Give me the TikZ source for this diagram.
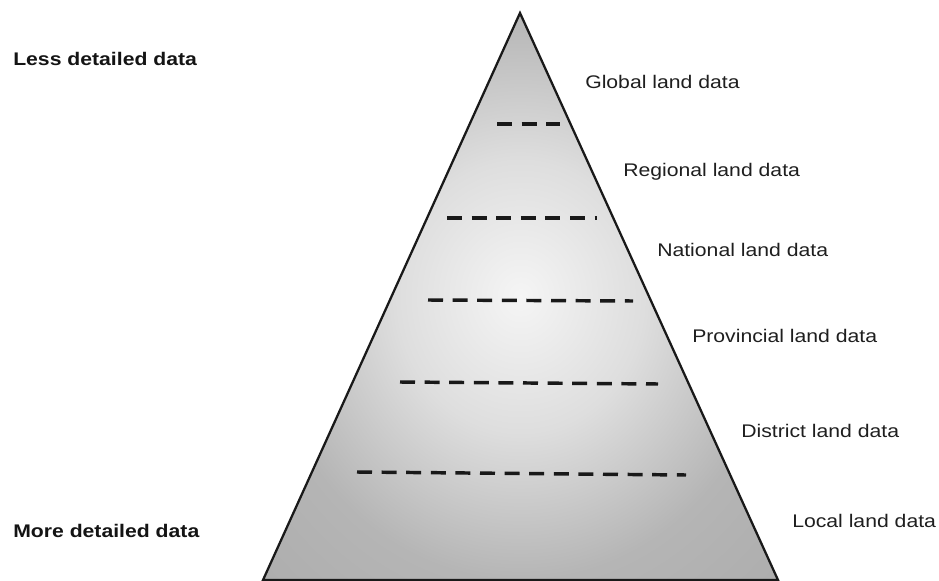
\documentclass[tikz,border=0pt]{standalone}
\usepackage{fontspec}
\setmainfont{Liberation Sans}[FakeStretch=1.16]
\pgfdeclareradialshading{pyramidfill}{\pgfpoint{0bp}{0bp}}{%
  color(0bp)=(black!4);
  color(12bp)=(black!13);
  color(25bp)=(black!29);
  color(50bp)=(black!36)}
\tikzset{
  label/.style={anchor=base west, inner sep=0pt, font=\fontsize{13.7}{16}\selectfont, text=black!88},
  side/.style={label, font=\fontsize{13.7}{16}\selectfont\bfseries, text=black!92},
  level/.style={line width=2.6pt, dash pattern=on 11.25pt off 7.2pt, black!90},
}
\begin{document}
\begin{tikzpicture}[x=0.75pt, y=-0.75pt]
\useasboundingbox (0,0) rectangle (939,581);
\fill[white] (0,0) rectangle (939,581);

% the pyramid
\coordinate (apex) at (520,13);
\coordinate (bl) at (263,580);
\coordinate (br) at (778,580);
\shade[shading=pyramidfill] (apex) -- (br) -- (bl) -- cycle;
\draw[line width=1.7pt, black!90, line join=miter] (apex) -- (br) -- (bl) -- cycle;

% level separators
\draw[level] (497,124) -- (560,124);
\draw[level] (447,218) -- (597,218);
\draw[level] (428,300) -- (633,301);
\draw[level] (400,382) -- (658,384);
\draw[level] (357,472) -- (686,475);

% level names
\node[label] (global)     at (585,89)  {Global land data};
\node[label] (regional)   at (623,177) {Regional land data};
\node[label] (national)   at (657,257) {National land data};
\node[label] (provincial) at (692,342) {Provincial land data};
\node[label] (district)   at (741,437) {District land data};
\node[label] (local)      at (792,527) {Local land data};

% detail axis
\node[side] (less) at (13,66)  {Less detailed data};
\node[side] (more) at (13,537) {More detailed data};
\end{tikzpicture}
\end{document}
